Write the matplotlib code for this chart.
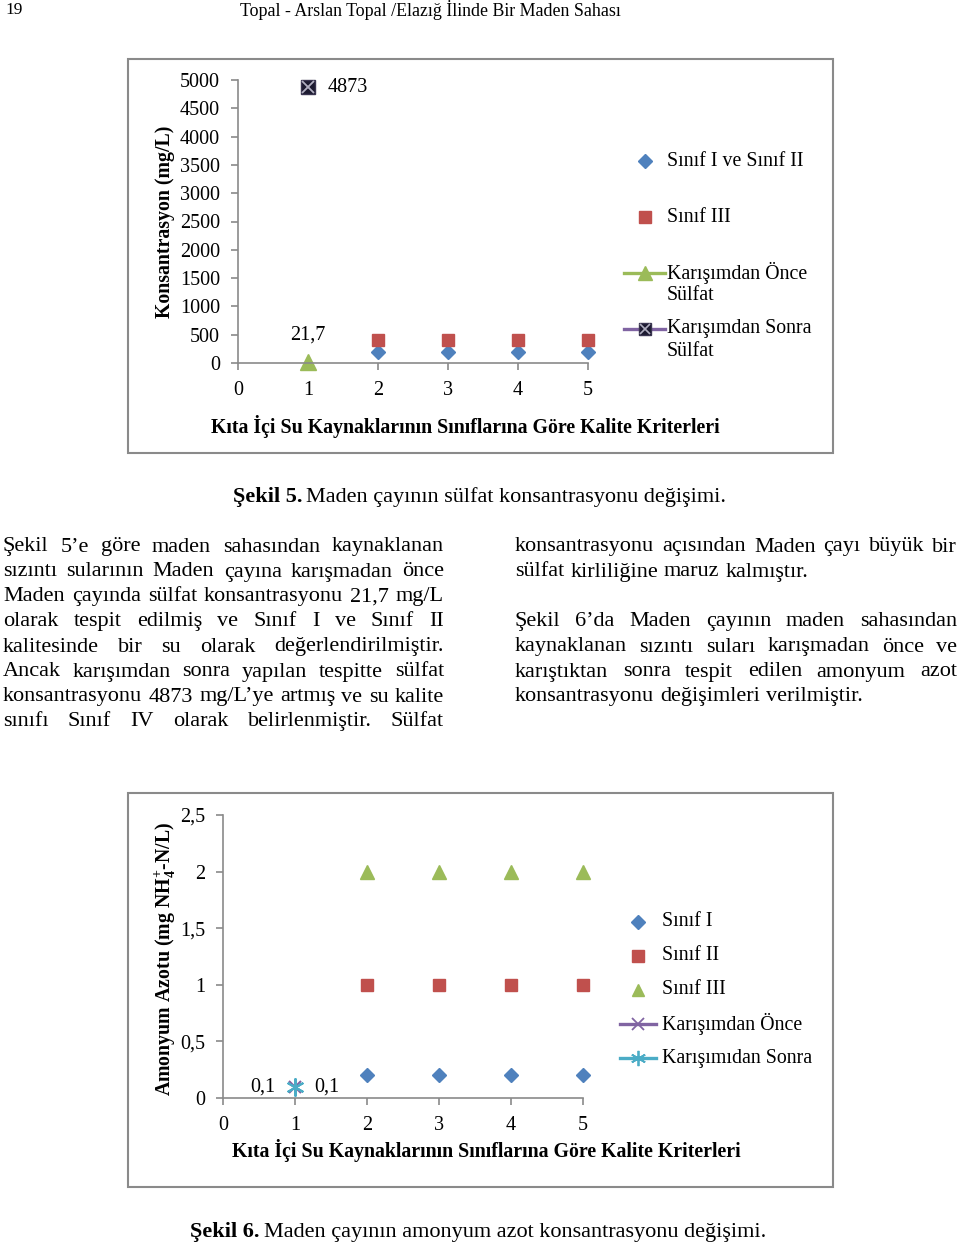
import matplotlib
matplotlib.use("Agg")
import matplotlib.pyplot as plt
from matplotlib.lines import Line2D
from matplotlib.patches import Rectangle

plt.rcParams['font.family'] = ['Liberation Serif', 'DejaVu Serif']
plt.rcParams['mathtext.fontset'] = 'custom'
plt.rcParams['mathtext.rm'] = 'Liberation Serif:bold'
plt.rcParams['mathtext.bf'] = 'Liberation Serif:bold'

W, H = 960, 1245

# --- Sekil 5: sulfat ---
sulf_x = [2, 3, 4, 5]
sulf_sinif12 = [200, 200, 200, 200]
sulf_sinif3 = [400, 400, 400, 400]
sulf_once_x, sulf_once = [1], [21.7]
sulf_sonra_x, sulf_sonra = [1], [4873]
sulf_yticks = [0, 500, 1000, 1500, 2000, 2500, 3000, 3500, 4000, 4500, 5000]

# --- Sekil 6: amonyum azotu ---
amon_x = [2, 3, 4, 5]
amon_sinif1 = [0.2, 0.2, 0.2, 0.2]
amon_sinif2 = [1, 1, 1, 1]
amon_sinif3 = [2, 2, 2, 2]
amon_once_x, amon_once = [1], [0.1]
amon_sonra_x, amon_sonra = [1], [0.1]
amon_yticks = [0, 0.5, 1, 1.5, 2, 2.5]
amon_yticklabels = ['0', '0,5', '1', '1,5', '2', '2,5']

xticks = [0, 1, 2, 3, 4, 5]
xlabel = 'Kıta İçi Su Kaynaklarının Sınıflarına Göre Kalite Kriterleri'

BLUE, RED, GREEN = '#4F81BD', '#C0504D', '#9BBB59'
PURPLE, CYAN, DARK = '#8064A2', '#4BACC6', '#1c1a30'
GRID = '#8a8a8a'

left_lines = [
    'Şekil 5’e göre maden sahasından kaynaklanan',
    'sızıntı sularının Maden çayına karışmadan önce',
    'Maden çayında sülfat konsantrasyonu 21,7 mg/L',
    'olarak tespit edilmiş ve Sınıf I ve Sınıf II',
    'kalitesinde bir su olarak değerlendirilmiştir.',
    'Ancak karışımdan sonra yapılan tespitte sülfat',
    'konsantrasyonu 4873 mg/L’ye artmış ve su kalite',
    'sınıfı Sınıf IV olarak belirlenmiştir. Sülfat',
]
right_lines = [
    ('konsantrasyonu açısından Maden çayı büyük bir', True),
    ('sülfat kirliliğine maruz kalmıştır.', False),
    (None, False),
    ('Şekil 6’da Maden çayının maden sahasından', True),
    ('kaynaklanan sızıntı suları karışmadan önce ve', True),
    ('karıştıktan sonra tespit edilen amonyum azot', True),
    ('konsantrasyonu değişimleri verilmiştir.', False),
]

TICK_FS = 14.5
LAB_FS = 14.3
LEG_FS = 14.3
CAP_FS = 16
PFS = 16


def fx(px):
    return px / W


def fy(py):
    return 1 - py / H


fig = plt.figure(figsize=(9.6, 12.45), dpi=100)
renderer = fig.canvas.get_renderer()


def style_axes(ax):
    for s in ['top', 'right']:
        ax.spines[s].set_visible(False)
    for s in ['left', 'bottom']:
        ax.spines[s].set_color(GRID)
        ax.spines[s].set_linewidth(1.2)
    ax.tick_params(direction='out', length=5, width=1.2, color=GRID,
                   labelsize=TICK_FS, pad=8)
    ax.set_xlim(0, 5)
    ax.set_xticks(xticks)


def legend_entry(x_mark, x_line, x_text, y, label, color=None, handles=()):
    if color is not None:
        fig.add_artist(Line2D([fx(x_line[0]), fx(x_line[1])], [fy(y), fy(y)],
                              color=color, lw=2.4, transform=fig.transFigure))
    for kw in handles:
        fig.add_artist(Line2D([fx(x_mark)], [fy(y)], transform=fig.transFigure,
                              linestyle='none', **kw))
    for i, part in enumerate(label.split('\n')):
        fig.text(fx(x_text), fy(y + 23 * i), part, fontsize=LEG_FS, va='center')


# header
fig.text(fx(5), fy(10), '19', fontsize=12.5, va='center')
fig.text(fx(240), fy(10), 'Topal - Arslan Topal /Elazığ İlinde Bir Maden Sahası',
         fontsize=12.9, va='center')

# frames
for top in [59, 793]:
    fig.add_artist(Rectangle((fx(128), fy(top + 394)), fx(833) - fx(128), 394 / H,
                             fill=False, edgecolor=GRID, lw=1.5,
                             transform=fig.transFigure))

# ---------------- chart 1 ----------------
ax1 = fig.add_axes([fx(238), fy(363), fx(588) - fx(238), (363 - 80) / H])
style_axes(ax1)
ax1.set_ylim(0, 5000)
ax1.set_yticks(sulf_yticks)
ax1.plot(sulf_x, sulf_sinif12, 'D', color=BLUE, ms=7, clip_on=False)
ax1.plot(sulf_x, sulf_sinif3, 's', color=RED, ms=8, clip_on=False)
ax1.plot(sulf_once_x, sulf_once, '^', color=GREEN, ms=12, clip_on=False)
ax1.plot(sulf_sonra_x, sulf_sonra, 's', color=DARK, ms=10, mec='#3a3550', clip_on=False)
ax1.plot(sulf_sonra_x, sulf_sonra, 'x', color='#b0aec0', ms=8, mew=1.3, clip_on=False)
ax1.annotate('21,7', (sulf_once_x[0], sulf_once[0]), textcoords='offset points',
             xytext=(0, 19), ha='center', va='center', fontsize=TICK_FS)
ax1.annotate('4873', (sulf_sonra_x[0], sulf_sonra[0]), textcoords='offset points',
             xytext=(14, 0), ha='left', va='center', fontsize=TICK_FS)
ax1.set_ylabel('Konsantrasyon (mg/L)', fontsize=LAB_FS, fontweight='bold', va='center')
ax1.yaxis.set_label_coords((165 - 238) / 350, 0.5)
ax1.set_xlabel(xlabel, fontsize=LAB_FS, fontweight='bold', va='center')
ax1.xaxis.set_label_coords((465 - 238) / 350, (363 - 427) / 283)

legend_entry(645, (624, 665), 667, 161, 'Sınıf I ve Sınıf II',
             handles=[dict(marker='D', color=BLUE, ms=7)])
legend_entry(645, (624, 665), 667, 217, 'Sınıf III',
             handles=[dict(marker='s', color=RED, ms=8)])
legend_entry(645, (624, 665), 667, 273, 'Karışımdan Önce\nSülfat', GREEN,
             handles=[dict(marker='^', color=GREEN, ms=10)])
legend_entry(645, (624, 665), 667, 329, 'Karışımdan Sonra\nSülfat', PURPLE,
             handles=[dict(marker='s', color=DARK, ms=9, mec='#3a3550'),
                      dict(marker='x', color='#b0aec0', ms=7, mew=1.2)])

# caption 5
b = fig.text(fx(233), fy(497), 'Şekil 5.', fontsize=CAP_FS, fontweight='bold', va='center')
bw = b.get_window_extent(renderer).width
fig.text(fx(233 + bw + 4), fy(497), 'Maden çayının sülfat konsantrasyonu değişimi.',
         fontsize=CAP_FS, va='center')

# ---------------- paragraphs ----------------


def put_line(line, x0, x1, y, justify):
    words = line.split()
    texts = [fig.text(0, fy(y), w, fontsize=PFS, va='center') for w in words]
    widths = [t.get_window_extent(renderer).width for t in texts]
    if justify and len(words) > 1:
        gap = (x1 - x0 - sum(widths)) / (len(words) - 1)
    else:
        gap = PFS * 100 / 72 * 0.27
    x = x0
    for t, w in zip(texts, widths):
        t.set_x(fx(x))
        x += w + gap


for i, line in enumerate(left_lines):
    put_line(line, 3, 444, 547 + 25 * i, True)
for i, (line, just) in enumerate(right_lines):
    if line:
        put_line(line, 515, 957, 547 + 25 * i, just)

# ---------------- chart 2 ----------------
ax2 = fig.add_axes([fx(223), fy(1098), fx(583) - fx(223), (1098 - 815) / H])
style_axes(ax2)
ax2.set_ylim(0, 2.5)
ax2.set_yticks(amon_yticks)
ax2.set_yticklabels(amon_yticklabels)
ax2.plot(amon_x, amon_sinif1, 'D', color=BLUE, ms=7, clip_on=False)
ax2.plot(amon_x, amon_sinif2, 's', color=RED, ms=8.5, clip_on=False)
ax2.plot(amon_x, amon_sinif3, '^', color=GREEN, ms=10, clip_on=False)
ax2.plot(amon_once_x, amon_once, 'x', color=PURPLE, ms=9, mew=1.5, clip_on=False)
ax2.plot(amon_sonra_x, amon_sonra, marker=(6, 2, 0), color=CYAN, ms=13, mew=1.5,
         linestyle='none', clip_on=False)
ax2.annotate('0,1', (amon_once_x[0], amon_once[0]), textcoords='offset points',
             xytext=(-23, 0), ha='center', va='center', fontsize=TICK_FS)
ax2.annotate('0,1', (amon_sonra_x[0], amon_sonra[0]), textcoords='offset points',
             xytext=(23, 0), ha='center', va='center', fontsize=TICK_FS)
ax2.set_ylabel('Amonyum Azotu (mg NH$_{4}^{+}$-N/L)', fontsize=LAB_FS,
               fontweight='bold', va='center')
ax2.yaxis.set_label_coords((165 - 223) / 360, 0.49)
ax2.set_xlabel(xlabel, fontsize=LAB_FS, fontweight='bold', va='center')
ax2.xaxis.set_label_coords((486 - 223) / 360, (1098 - 1151) / 283)

legend_entry(638, (620, 656), 662, 922, 'Sınıf I',
             handles=[dict(marker='D', color=BLUE, ms=7)])
legend_entry(638, (620, 656), 662, 956, 'Sınıf II',
             handles=[dict(marker='s', color=RED, ms=8)])
legend_entry(638, (620, 656), 662, 990, 'Sınıf III',
             handles=[dict(marker='^', color=GREEN, ms=9)])
legend_entry(638, (620, 656), 662, 1024, 'Karışımdan Önce', PURPLE,
             handles=[dict(marker='x', color=PURPLE, ms=8, mew=1.3)])
legend_entry(638, (620, 656), 662, 1058, 'Karışımıdan Sonra', CYAN,
             handles=[dict(marker=(6, 2, 0), color=CYAN, ms=11, mew=1.3)])

# caption 6
b = fig.text(fx(190), fy(1232), 'Şekil 6.', fontsize=CAP_FS, fontweight='bold', va='center')
bw = b.get_window_extent(renderer).width
fig.text(fx(190 + bw + 4), fy(1232),
         'Maden çayının amonyum azot konsantrasyonu değişimi.',
         fontsize=CAP_FS, va='center')

fig.savefig('out.png', dpi=100, facecolor='white')
